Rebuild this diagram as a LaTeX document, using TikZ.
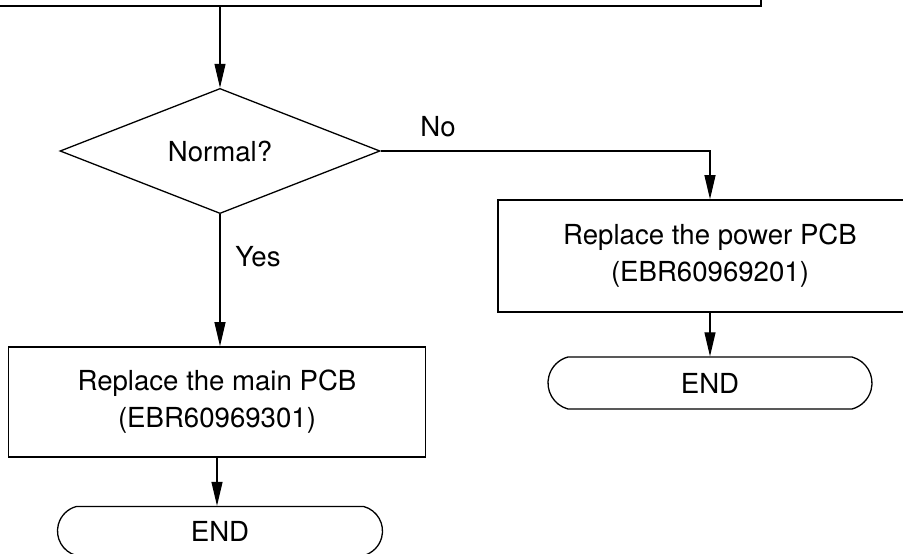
\documentclass[tikz,border=0pt]{standalone}
\usepackage{fontspec}
\setmainfont{TeX Gyre Heros}
\usetikzlibrary{shapes.geometric,shapes.misc,arrows.meta}
\tikzset{
    box/.style={draw, rectangle, line width=1.6pt, inner sep=0pt, align=center},
    decision/.style={draw, diamond, line width=1.3pt, inner sep=0pt},
    terminal/.style={draw, rounded rectangle, rounded rectangle arc length=150, line width=1.3pt, inner sep=0pt},
    flow/.style={line width=1.1pt, -{Triangle[length=24pt,width=11pt]}}
}
\begin{document}
\begin{tikzpicture}[
                x=1pt, y=-1pt, % pixel coordinates
                font=\fontsize{27.6}{37}\selectfont,
            ]
            \useasboundingbox (0,0) rectangle (903,554);
            \clip (0,0) rectangle (903,554);
            % boxes
            \node[box, minimum width=800pt, minimum height=60pt] (check) at (361,-24) {};
            \node[decision, minimum width=320pt, minimum height=95pt] (normal) at (220,151) {Normal?};
            \node[box, minimum width=417pt, minimum height=110pt] (mainpcb) at (217,402) {Replace the main PCB\\(EBR60969301)};
            \node[terminal, minimum width=325pt, minimum height=49pt] (endmain) at (220,531) {END};
            \node[box, minimum width=424pt, minimum height=112pt] (powerpcb) at (710,256) {Replace the power PCB\\(EBR60969201)};
            \node[terminal, minimum width=324pt, minimum height=52pt] (endpower) at (710,383) {END};
            % labels
            \node (no) at (438,127) {No};
            \node (yes) at (258,257) {Yes};
            % arrows
            \draw[flow] (check.south -| normal.north) -- (normal.north);
            \draw[flow] (normal.south) -- (normal.south |- mainpcb.north);
            \draw[flow] (normal.east) -| (powerpcb.north);
            \draw[flow] (mainpcb.south) -- (mainpcb.south |- endmain.north);
            \draw[flow] (powerpcb.south) -- (endpower.north);
            \end{tikzpicture}
\end{document}
